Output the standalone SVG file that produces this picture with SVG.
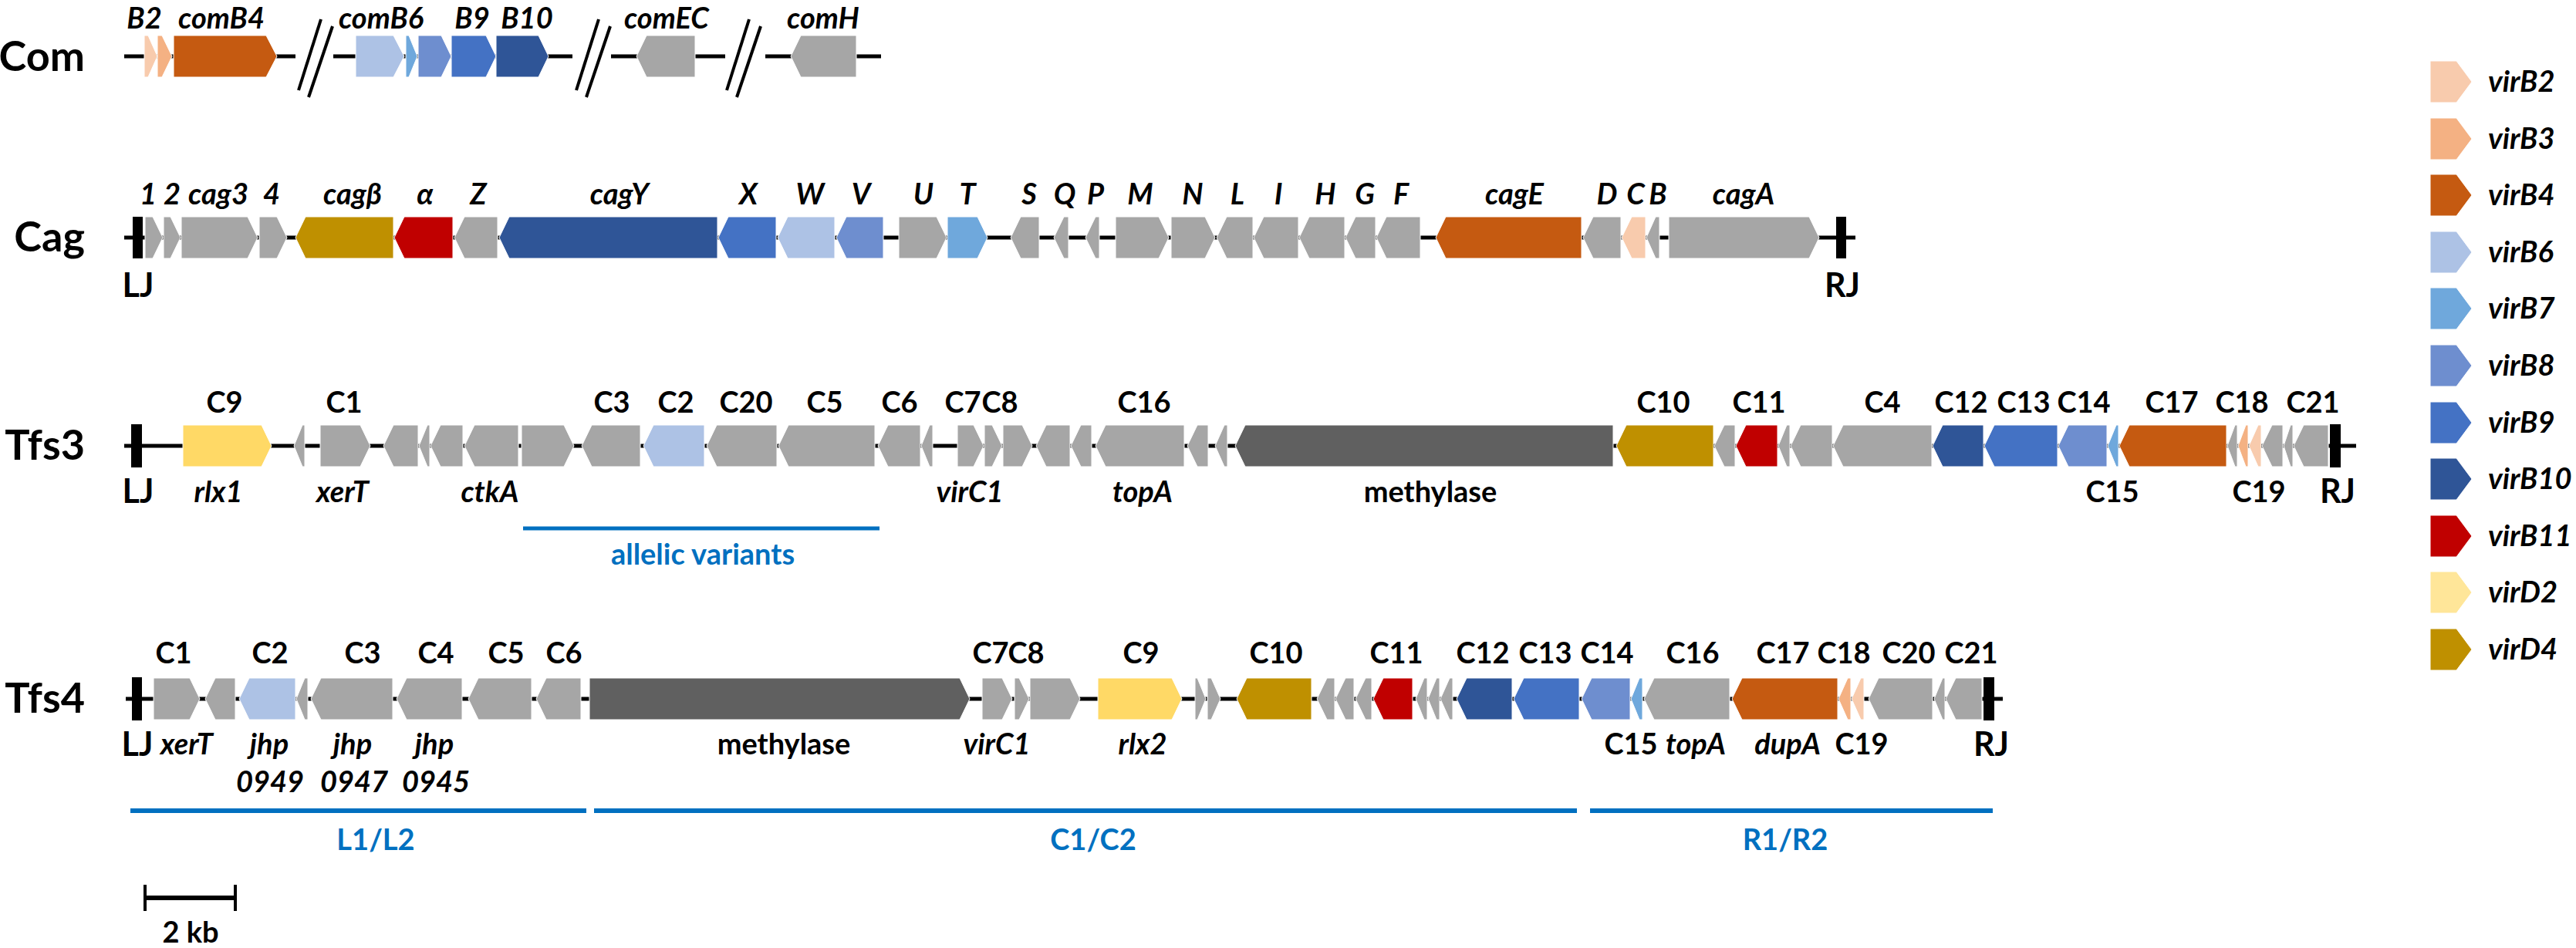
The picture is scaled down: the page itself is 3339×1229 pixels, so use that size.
<svg xmlns="http://www.w3.org/2000/svg" width="3339" height="1229" viewBox="0 0 3339 1229">
<style>
text{font-family:Lato,"Open Sans","DejaVu Sans",sans-serif;font-weight:bold;fill:#000}
.row{font-size:54px;text-anchor:end}
.lb{font-size:38px;text-anchor:middle}
.it{font-style:italic}
.jn{font-size:43px;text-anchor:middle}
.leg{font-size:38px;font-style:italic}
.bt{fill:#0070C0;font-size:38px;text-anchor:middle}
polygon{stroke:#fff;stroke-width:1}
.g{fill:#A6A6A6}.m{fill:#606060}
.b2{fill:#F8CBAD}.b3{fill:#F4B183}.b4{fill:#C55A11}.b6{fill:#ADC2E5}.b7{fill:#6FA8DC}
.b8{fill:#6E8ECF}.b9{fill:#4472C4}.b10{fill:#2F5597}.b11{fill:#C00000}.d2{fill:#FFD966}.d2l{fill:#FFE699}.d4{fill:#BF9000}
.ln{stroke:#000;stroke-width:5}
.bar{fill:#000}
.bl{stroke:#0070C0;stroke-width:6}
</style>
<rect width="3339" height="1229" fill="#fff"/>

<!-- backbone lines -->
<g id="connectors">
<line class="ln" x1="161" y1="73" x2="383" y2="73"/>
<line class="ln" x1="432" y1="73" x2="742" y2="73"/>
<line class="ln" x1="792" y1="73" x2="940" y2="73"/>
<line class="ln" x1="992" y1="73" x2="1142" y2="73"/>
<g stroke="#000" stroke-width="4">
<line x1="416" y1="25" x2="387" y2="117"/><line x1="431" y1="34" x2="400" y2="126"/>
<line x1="776" y1="25" x2="747" y2="117"/><line x1="791" y1="34" x2="760" y2="126"/>
<line x1="971" y1="25" x2="942" y2="117"/><line x1="986" y1="34" x2="955" y2="126"/>
</g>
<line class="ln" x1="161" y1="308" x2="2405" y2="308"/>
<line class="ln" x1="161" y1="578" x2="3054" y2="578"/>
<line class="ln" x1="163" y1="906" x2="2596" y2="906"/>
<rect class="bar" x="172" y="281" width="13" height="54"/>
<rect class="bar" x="2380" y="281" width="13" height="54"/>
<rect class="bar" x="170" y="550" width="14" height="56"/>
<rect class="bar" x="3020" y="550" width="14" height="56"/>
<rect class="bar" x="171" y="878" width="13" height="56"/>
<rect class="bar" x="2571" y="878" width="14" height="56"/>
</g>

<!-- row labels -->
<g id="row-labels">
<text class="row" x="110" y="92">Com</text>
<text class="row" x="110" y="326">Cag</text>
<text class="row" x="110" y="596">Tfs3</text>
<text class="row" x="110" y="924">Tfs4</text>
</g>

<!-- Com -->
<g id="com">
<g id="com-B2"><polygon class="b2" points="187,46 192,46 204,73 192,100 187,100"/><text class="lb it" x="187" y="37">B2</text></g>
<g id="com-B3"><polygon class="b3" points="204,46 210,46 223,73 210,100 204,100"/></g>
<g id="com-comB4"><polygon class="b4" points="225,46 345,46 359,73 345,100 225,100"/><text class="lb it" x="287" y="37">comB4</text></g>
<g id="com-comB6"><polygon class="b6" points="461,46 510,46 524,73 510,100 461,100"/><text class="lb it" x="494" y="37">comB6</text></g>
<g id="com-B7"><polygon class="b7" points="526,46 530,46 541,73 530,100 526,100"/></g>
<g id="com-B8"><polygon class="b8" points="542,46 572,46 585,73 572,100 542,100"/></g>
<g id="com-B9"><polygon class="b9" points="585,46 630,46 643,73 630,100 585,100"/><text class="lb it" x="612" y="37">B9</text></g>
<g id="com-B10"><polygon class="b10" points="643,46 698,46 711,73 698,100 643,100"/><text class="lb it" x="683" y="37">B10</text></g>
<g id="com-comEC"><polygon class="g" points="825,73 838,46 901,46 901,100 838,100"/><text class="lb it" x="864" y="37">comEC</text></g>
<g id="com-comH"><polygon class="g" points="1025,73 1038,46 1110,46 1110,100 1038,100"/><text class="lb it" x="1067" y="37">comH</text></g>
</g>

<!-- Cag -->
<g id="cag">
<g id="cag-1"><polygon class="g" points="188,281 198,281 211,308 198,335 188,335"/><text class="lb it" x="192" y="265">1</text></g>
<g id="cag-2"><polygon class="g" points="212,281 221,281 234,308 221,335 212,335"/><text class="lb it" x="223" y="265">2</text></g>
<g id="cag-cag3"><polygon class="g" points="235,281 321,281 334,308 321,335 235,335"/><text class="lb it" x="283" y="265">cag3</text></g>
<g id="cag-4"><polygon class="g" points="336,281 359,281 372,308 359,335 336,335"/><text class="lb it" x="352" y="265">4</text></g>
<g id="cag-cagB"><polygon class="d4" points="383,308 396,281 510,281 510,335 396,335"/><text class="lb it" x="457" y="265">cagβ</text></g>
<g id="cag-a"><polygon class="b11" points="511,308 524,281 587,281 587,335 524,335"/><text class="lb it" x="551" y="265">α</text></g>
<g id="cag-Z"><polygon class="g" points="589,308 602,281 645,281 645,335 602,335"/><text class="lb it" x="620" y="265">Z</text></g>
<g id="cag-cagY"><polygon class="b10" points="647,308 660,281 930,281 930,335 660,335"/><text class="lb it" x="803" y="265">cagY</text></g>
<g id="cag-X"><polygon class="b9" points="931,308 944,281 1006,281 1006,335 944,335"/><text class="lb it" x="970" y="265">X</text></g>
<g id="cag-W"><polygon class="b6" points="1008,308 1021,281 1082,281 1082,335 1021,335"/><text class="lb it" x="1050" y="265">W</text></g>
<g id="cag-V"><polygon class="b8" points="1084,308 1097,281 1145,281 1145,335 1097,335"/><text class="lb it" x="1116" y="265">V</text></g>
<g id="cag-U"><polygon class="g" points="1165,281 1214,281 1227,308 1214,335 1165,335"/><text class="lb it" x="1197" y="265">U</text></g>
<g id="cag-T"><polygon class="b7" points="1228,281 1267,281 1280,308 1267,335 1228,335"/><text class="lb it" x="1254" y="265">T</text></g>
<g id="cag-S"><polygon class="g" points="1310,308 1323,281 1347,281 1347,335 1323,335"/><text class="lb it" x="1334" y="265">S</text></g>
<g id="cag-Q"><polygon class="g" points="1366,308 1379,281 1385,281 1385,335 1379,335"/><text class="lb it" x="1380" y="265">Q</text></g>
<g id="cag-P"><polygon class="g" points="1407,308 1420,281 1425,281 1425,335 1420,335"/><text class="lb it" x="1420" y="265">P</text></g>
<g id="cag-M"><polygon class="g" points="1446,281 1502,281 1515,308 1502,335 1446,335"/><text class="lb it" x="1478" y="265">M</text></g>
<g id="cag-N"><polygon class="g" points="1518,281 1562,281 1575,308 1562,335 1518,335"/><text class="lb it" x="1546" y="265">N</text></g>
<g id="cag-L"><polygon class="g" points="1577,308 1590,281 1624,281 1624,335 1590,335"/><text class="lb it" x="1604" y="265">L</text></g>
<g id="cag-I"><polygon class="g" points="1625,308 1638,281 1683,281 1683,335 1638,335"/><text class="lb it" x="1657" y="265">I</text></g>
<g id="cag-H"><polygon class="g" points="1684,308 1697,281 1743,281 1743,335 1697,335"/><text class="lb it" x="1718" y="265">H</text></g>
<g id="cag-G"><polygon class="g" points="1744,308 1757,281 1783,281 1783,335 1757,335"/><text class="lb it" x="1769" y="265">G</text></g>
<g id="cag-F"><polygon class="g" points="1784,308 1797,281 1841,281 1841,335 1797,335"/><text class="lb it" x="1816" y="265">F</text></g>
<g id="cag-cagE"><polygon class="b4" points="1861,308 1874,281 2050,281 2050,335 1874,335"/><text class="lb it" x="1963" y="265">cagE</text></g>
<g id="cag-D"><polygon class="g" points="2052,308 2065,281 2101,281 2101,335 2065,335"/><text class="lb it" x="2083" y="265">D</text></g>
<g id="cag-C"><polygon class="b2" points="2102,308 2115,281 2133,281 2133,335 2115,335"/><text class="lb it" x="2120" y="265">C</text></g>
<g id="cag-B"><polygon class="g" points="2134,308 2146,281 2151,281 2151,335 2146,335"/><text class="lb it" x="2149" y="265">B</text></g>
<g id="cag-cagA"><polygon class="g" points="2163,281 2345,281 2358,308 2345,335 2163,335"/><text class="lb it" x="2260" y="265">cagA</text></g>
<text class="jn" x="179" y="385">LJ</text>
<text class="jn" x="2388" y="385">RJ</text>
</g>

<!-- Tfs3 -->
<g id="tfs3">
<g id="t3-C9"><polygon class="d2" points="237,551 339,551 352,578 339,605 237,605"/><text class="lb" x="291" y="535">C9</text><text class="lb it" x="283" y="651">rlx1</text></g>
<g id="t3-g1"><polygon class="g" points="381,578 392,551 395,551 395,605 392,605"/></g>
<g id="t3-C1"><polygon class="g" points="415,551 467,551 480,578 467,605 415,605"/><text class="lb" x="446" y="535">C1</text><text class="lb it" x="444" y="651">xerT</text></g>
<g id="t3-g2"><polygon class="g" points="497,578 510,551 542,551 542,605 510,605"/></g>
<g id="t3-g3"><polygon class="g" points="543,578 554,551 557,551 557,605 554,605"/></g>
<g id="t3-g4"><polygon class="g" points="558,578 571,551 600,551 600,605 571,605"/></g>
<g id="t3-ctkA"><polygon class="g" points="602,578 615,551 672,551 672,605 615,605"/><text class="lb it" x="635" y="651">ctkA</text></g>
<g id="t3-g5"><polygon class="g" points="676,551 731,551 744,578 731,605 676,605"/></g>
<g id="t3-C3"><polygon class="g" points="754,578 767,551 830,551 830,605 767,605"/><text class="lb" x="793" y="535">C3</text></g>
<g id="t3-C2"><polygon class="b6" points="834,578 847,551 913,551 913,605 847,605"/><text class="lb" x="876" y="535">C2</text></g>
<g id="t3-C20"><polygon class="g" points="916,578 929,551 1007,551 1007,605 929,605"/><text class="lb" x="967" y="535">C20</text></g>
<g id="t3-C5"><polygon class="g" points="1009,578 1022,551 1134,551 1134,605 1022,605"/><text class="lb" x="1069" y="535">C5</text></g>
<g id="t3-C6"><polygon class="g" points="1138,578 1151,551 1193,551 1193,605 1151,605"/><text class="lb" x="1166" y="535">C6</text></g>
<g id="t3-g6"><polygon class="g" points="1194,578 1205,551 1209,551 1209,605 1205,605"/></g>
<g id="t3-C7"><polygon class="g" points="1241,551 1262,551 1275,578 1262,605 1241,605"/><text class="lb" x="1248" y="535">C7</text><text class="lb it" x="1257" y="651">virC1</text></g>
<g id="t3-C8"><polygon class="g" points="1276,551 1286,551 1299,578 1286,605 1276,605"/><text class="lb" x="1296" y="535">C8</text></g>
<g id="t3-g7"><polygon class="g" points="1300,551 1325,551 1338,578 1325,605 1300,605"/></g>
<g id="t3-g8"><polygon class="g" points="1343,578 1356,551 1387,551 1387,605 1356,605"/></g>
<g id="t3-g9"><polygon class="g" points="1388,578 1401,551 1415,551 1415,605 1401,605"/></g>
<g id="t3-C16"><polygon class="g" points="1420,578 1433,551 1535,551 1535,605 1433,605"/><text class="lb" x="1483" y="535">C16</text><text class="lb it" x="1481" y="651">topA</text></g>
<g id="t3-g10"><polygon class="g" points="1539,578 1552,551 1566,551 1566,605 1552,605"/></g>
<g id="t3-g11"><polygon class="g" points="1575,578 1587,551 1591,551 1591,605 1587,605"/></g>
<g id="t3-methylase"><polygon class="m" points="1601,578 1614,551 2091,551 2091,605 1614,605"/><text class="lb" x="1854" y="651">methylase</text></g>
<g id="t3-C10"><polygon class="d4" points="2095,578 2108,551 2221,551 2221,605 2108,605"/><text class="lb" x="2156" y="535">C10</text></g>
<g id="t3-g12"><polygon class="g" points="2222,578 2235,551 2249,551 2249,605 2235,605"/></g>
<g id="t3-C11"><polygon class="b11" points="2250,578 2263,551 2304,551 2304,605 2263,605"/><text class="lb" x="2280" y="535">C11</text></g>
<g id="t3-g13"><polygon class="g" points="2305,578 2316,551 2320,551 2320,605 2316,605"/></g>
<g id="t3-g14"><polygon class="g" points="2321,578 2334,551 2375,551 2375,605 2334,605"/></g>
<g id="t3-C4"><polygon class="g" points="2376,578 2389,551 2504,551 2504,605 2389,605"/><text class="lb" x="2440" y="535">C4</text></g>
<g id="t3-C12"><polygon class="b10" points="2505,578 2518,551 2571,551 2571,605 2518,605"/><text class="lb" x="2542" y="535">C12</text></g>
<g id="t3-C13"><polygon class="b9" points="2572,578 2585,551 2667,551 2667,605 2585,605"/><text class="lb" x="2623" y="535">C13</text></g>
<g id="t3-C14"><polygon class="b8" points="2668,578 2681,551 2731,551 2731,605 2681,605"/><text class="lb" x="2701" y="535">C14</text></g>
<g id="t3-C15"><polygon class="b7" points="2732,578 2743,551 2746,551 2746,605 2743,605"/><text class="lb" x="2738" y="651">C15</text></g>
<g id="t3-C17"><polygon class="b4" points="2747,578 2760,551 2886,551 2886,605 2760,605"/><text class="lb" x="2815" y="535">C17</text></g>
<g id="t3-g15"><polygon class="g" points="2887,578 2897,551 2900,551 2900,605 2897,605"/></g>
<g id="t3-C18"><polygon class="b3" points="2901,578 2911,551 2914,551 2914,605 2911,605"/><text class="lb" x="2906" y="535">C18</text></g>
<g id="t3-C19"><polygon class="b2" points="2915,578 2927,551 2931,551 2931,605 2927,605"/><text class="lb" x="2928" y="651">C19</text></g>
<g id="t3-g16"><polygon class="g" points="2932,578 2945,551 2959,551 2959,605 2945,605"/></g>
<g id="t3-g17"><polygon class="g" points="2960,578 2969,551 2972,551 2972,605 2969,605"/></g>
<g id="t3-C21"><polygon class="g" points="2973,578 2986,551 3018,551 3018,605 2986,605"/><text class="lb" x="2998" y="535">C21</text></g>
<text class="jn" x="179" y="652">LJ</text>
<text class="jn" x="3030" y="652">RJ</text>
<g id="allelic-variants"><line class="bl" x1="678" y1="685" x2="1140" y2="685" style="stroke-width:5"/><text class="bt" x="911" y="732">allelic variants</text></g>
</g>

<!-- Tfs4 -->
<g id="tfs4">
<g id="t4-C1"><polygon class="g" points="199,879 246,879 259,906 246,933 199,933"/><text class="lb" x="225" y="860">C1</text><text class="lb it" x="242" y="978">xerT</text></g>
<g id="t4-g1"><polygon class="g" points="266,906 279,879 305,879 305,933 279,933"/></g>
<g id="t4-C2"><polygon class="b6" points="310,906 323,879 383,879 383,933 323,933"/><text class="lb" x="350" y="860">C2</text><text class="lb it" x="349" y="978">jhp</text><text class="lb it" x="350" y="1027">0949</text></g>
<g id="t4-g2"><polygon class="g" points="384,906 395,879 399,879 399,933 395,933"/></g>
<g id="t4-C3"><polygon class="g" points="403,906 416,879 509,879 509,933 416,933"/><text class="lb" x="470" y="860">C3</text><text class="lb it" x="457" y="978">jhp</text><text class="lb it" x="459" y="1027">0947</text></g>
<g id="t4-C4"><polygon class="g" points="514,906 527,879 599,879 599,933 527,933"/><text class="lb" x="565" y="860">C4</text><text class="lb it" x="563" y="978">jhp</text><text class="lb it" x="565" y="1027">0945</text></g>
<g id="t4-C5"><polygon class="g" points="607,906 620,879 689,879 689,933 620,933"/><text class="lb" x="656" y="860">C5</text></g>
<g id="t4-C6"><polygon class="g" points="695,906 708,879 753,879 753,933 708,933"/><text class="lb" x="731" y="860">C6</text></g>
<g id="t4-methylase"><polygon class="m" points="764,879 1244,879 1257,906 1244,933 764,933"/><text class="lb" x="1016" y="978">methylase</text></g>
<g id="t4-C7"><polygon class="g" points="1273,879 1299,879 1312,906 1299,933 1273,933"/><text class="lb" x="1284" y="860">C7</text><text class="lb it" x="1292" y="978">virC1</text></g>
<g id="t4-g3"><polygon class="g" points="1315,879 1321,879 1334,906 1321,933 1315,933"/></g>
<g id="t4-C8"><polygon class="g" points="1335,879 1387,879 1400,906 1387,933 1335,933"/><text class="lb" x="1330" y="860">C8</text></g>
<g id="t4-C9"><polygon class="d2" points="1423,879 1519,879 1532,906 1519,933 1423,933"/><text class="lb" x="1479" y="860">C9</text><text class="lb it" x="1481" y="978">rlx2</text></g>
<g id="t4-g4"><polygon class="g" points="1549,879 1552,879 1563,906 1552,933 1549,933"/></g>
<g id="t4-g5"><polygon class="g" points="1565,879 1570,879 1582,906 1570,933 1565,933"/></g>
<g id="t4-C10"><polygon class="d4" points="1603,906 1616,879 1700,879 1700,933 1616,933"/><text class="lb" x="1654" y="860">C10</text></g>
<g id="t4-g6"><polygon class="g" points="1707,906 1720,879 1730,879 1730,933 1720,933"/></g>
<g id="t4-g7"><polygon class="g" points="1731,906 1744,879 1755,879 1755,933 1744,933"/></g>
<g id="t4-g8"><polygon class="g" points="1757,906 1770,879 1778,879 1778,933 1770,933"/></g>
<g id="t4-C11"><polygon class="b11" points="1780,906 1793,879 1831,879 1831,933 1793,933"/><text class="lb" x="1810" y="860">C11</text></g>
<g id="t4-g9"><polygon class="g" points="1835,906 1846,879 1850,879 1850,933 1846,933"/></g>
<g id="t4-g10"><polygon class="g" points="1851,906 1862,879 1866,879 1866,933 1862,933"/></g>
<g id="t4-g11"><polygon class="g" points="1867,906 1879,879 1883,879 1883,933 1879,933"/></g>
<g id="t4-C12"><polygon class="b10" points="1888,906 1901,879 1960,879 1960,933 1901,933"/><text class="lb" x="1922" y="860">C12</text></g>
<g id="t4-C13"><polygon class="b9" points="1962,906 1975,879 2047,879 2047,933 1975,933"/><text class="lb" x="2003" y="860">C13</text></g>
<g id="t4-C14"><polygon class="b8" points="2050,906 2063,879 2113,879 2113,933 2063,933"/><text class="lb" x="2083" y="860">C14</text></g>
<g id="t4-C15"><polygon class="b7" points="2114,906 2125,879 2129,879 2129,933 2125,933"/><text class="lb" x="2114" y="978">C15</text></g>
<g id="t4-C16"><polygon class="g" points="2131,906 2144,879 2242,879 2242,933 2144,933"/><text class="lb" x="2194" y="860">C16</text><text class="lb it" x="2198" y="978">topA</text></g>
<g id="t4-C17"><polygon class="b4" points="2245,906 2258,879 2382,879 2382,933 2258,933"/><text class="lb" x="2311" y="860">C17</text><text class="lb it" x="2317" y="978">dupA</text></g>
<g id="t4-C18"><polygon class="b3" points="2383,906 2395,879 2399,879 2399,933 2395,933"/><text class="lb" x="2390" y="860">C18</text></g>
<g id="t4-C19"><polygon class="b2" points="2400,906 2412,879 2416,879 2416,933 2412,933"/><text class="lb" x="2413" y="978">C19</text></g>
<g id="t4-C20"><polygon class="g" points="2422,906 2435,879 2505,879 2505,933 2435,933"/><text class="lb" x="2474" y="860">C20</text></g>
<g id="t4-g12"><polygon class="g" points="2507,906 2518,879 2521,879 2521,933 2518,933"/></g>
<g id="t4-C21"><polygon class="g" points="2522,906 2535,879 2569,879 2569,933 2535,933"/><text class="lb" x="2555" y="860">C21</text></g>
<text class="jn" x="178" y="980">LJ</text>
<text class="jn" x="2581" y="980">RJ</text>
<g id="region-L1L2"><line class="bl" x1="169" y1="1051" x2="760" y2="1051"/><text class="bt" x="487" y="1102">L1/L2</text></g>
<g id="region-C1C2"><line class="bl" x1="770" y1="1051" x2="2044" y2="1051"/><text class="bt" x="1417" y="1102">C1/C2</text></g>
<g id="region-R1R2"><line class="bl" x1="2061" y1="1051" x2="2583" y2="1051"/><text class="bt" x="2314" y="1102">R1/R2</text></g>
</g>

<!-- scale bar -->
<g id="scale-bar">
<line x1="187" y1="1164" x2="306" y2="1164" stroke="#000" stroke-width="6"/>
<line x1="188" y1="1147" x2="188" y2="1181" stroke="#000" stroke-width="4"/>
<line x1="305" y1="1147" x2="305" y2="1181" stroke="#000" stroke-width="4"/>
<text class="lb" x="247" y="1222">2 kb</text>
</g>

<!-- legend -->
<g id="legend">
<g id="leg-virB2"><polygon class="b2" points="3150,79 3184,79 3204,106 3184,133 3150,133"/><text class="leg" x="3225" y="119">virB2</text></g>
<g id="leg-virB3"><polygon class="b3" points="3150,153 3184,153 3204,180 3184,207 3150,207"/><text class="leg" x="3225" y="193">virB3</text></g>
<g id="leg-virB4"><polygon class="b4" points="3150,226 3184,226 3204,253 3184,280 3150,280"/><text class="leg" x="3225" y="266">virB4</text></g>
<g id="leg-virB6"><polygon class="b6" points="3150,300 3184,300 3204,327 3184,354 3150,354"/><text class="leg" x="3225" y="340">virB6</text></g>
<g id="leg-virB7"><polygon class="b7" points="3150,373 3184,373 3204,400 3184,427 3150,427"/><text class="leg" x="3225" y="413">virB7</text></g>
<g id="leg-virB8"><polygon class="b8" points="3150,447 3184,447 3204,474 3184,501 3150,501"/><text class="leg" x="3225" y="487">virB8</text></g>
<g id="leg-virB9"><polygon class="b9" points="3150,521 3184,521 3204,548 3184,575 3150,575"/><text class="leg" x="3225" y="561">virB9</text></g>
<g id="leg-virB10"><polygon class="b10" points="3150,594 3184,594 3204,621 3184,648 3150,648"/><text class="leg" x="3225" y="634">virB10</text></g>
<g id="leg-virB11"><polygon class="b11" points="3150,668 3184,668 3204,695 3184,722 3150,722"/><text class="leg" x="3225" y="708">virB11</text></g>
<g id="leg-virD2"><polygon class="d2l" points="3150,741 3184,741 3204,768 3184,795 3150,795"/><text class="leg" x="3225" y="781">virD2</text></g>
<g id="leg-virD4"><polygon class="d4" points="3150,815 3184,815 3204,842 3184,869 3150,869"/><text class="leg" x="3225" y="855">virD4</text></g>
</g>
</svg>
